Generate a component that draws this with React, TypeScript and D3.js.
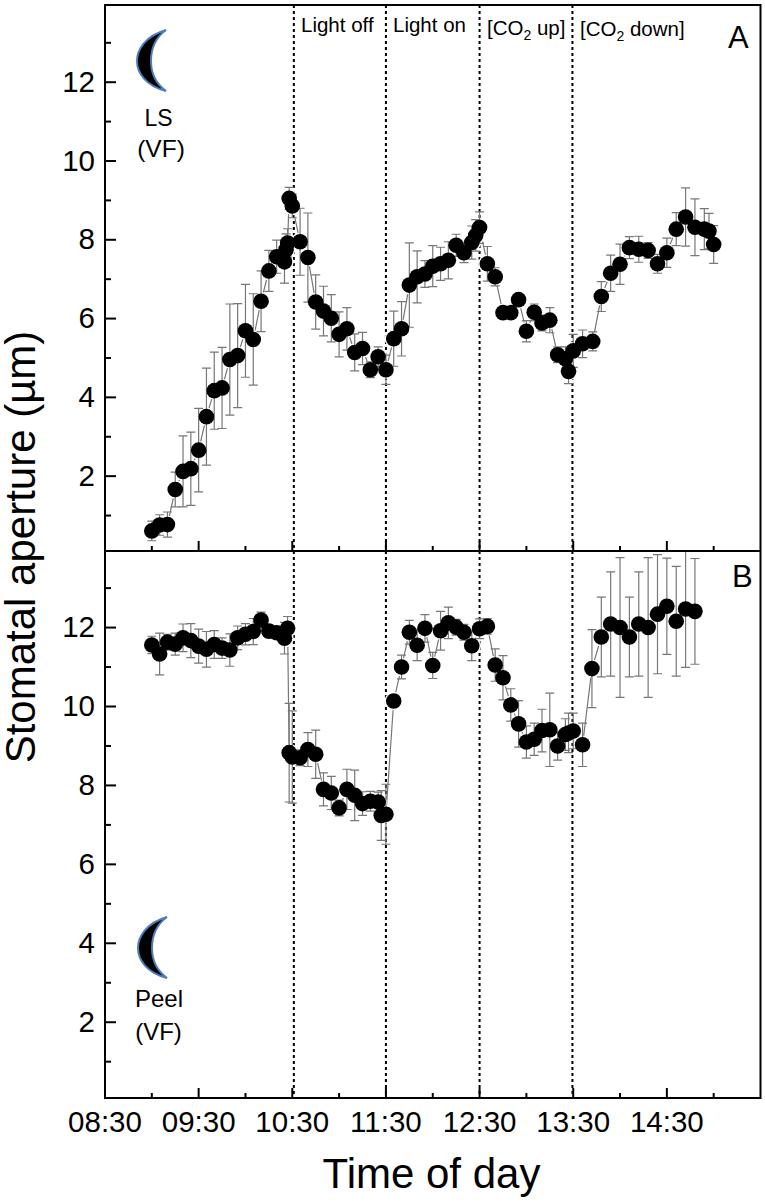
import * as d3 from 'd3';
import * as React from 'react';

// all times are minutes after 09:00
const timesA = [
  0, 5, 10, 15, 20, 25, 30, 35, 40, 45, 50, 55, 60, 65, 70, 75, 80, 85, 86, 87, 88, 90, 95, 100, 105, 110, 115, 120, 125, 130,
  135, 140, 145, 150, 155, 160, 165, 170, 175, 180, 185, 190, 195, 200, 205, 207.5, 210, 215, 220, 225, 230, 235, 240, 245, 250, 255,
  260, 265, 267, 270, 276, 282.5, 288, 294, 300, 306, 312, 318, 324, 330, 336, 342, 348, 354, 357, 360,
];
const meansA = [
  0.61, 0.76, 0.77, 1.66, 2.12, 2.19, 2.66, 3.51, 4.17, 4.24, 4.96, 5.06, 5.69, 5.47, 6.44, 7.21, 7.57, 7.44, 7.75, 7.92, 9.05, 8.86,
  7.95, 7.55, 6.42, 6.19, 6.01, 5.6, 5.74, 5.14, 5.24, 4.7, 5.03, 4.7, 5.49, 5.74, 6.85, 7.06, 7.13, 7.33, 7.39, 7.48, 7.86, 7.67,
  7.93, 8.11, 8.31, 7.39, 7.06, 6.15, 6.15, 6.48, 5.68, 6.16, 5.89, 5.96, 5.08, 4.98, 4.66, 5.18, 5.36, 5.42, 6.56, 7.15, 7.38, 7.8,
  7.76, 7.73, 7.39, 7.67, 8.27, 8.58, 8.32, 8.27, 8.22, 7.88,
];
const errorsA = [
  0.25, 0.26, 0.32, 0.44, 0.9, 0.93, 1.06, 1.23, 0.98, 1.03, 1.41, 1.32, 1.18, 1.16, 0.77, 0.52, 0.42, 0.54, 0.4, 0.36, 0.28, 0.3,
  0.85, 1.13, 0.69, 0.63, 0.6, 0.57, 0.54, 0.47, 0.41, 0.2, 0.25, 0.37, 0.7, 0.69, 1.07, 0.66, 0.34, 0.52, 0.42, 0.47, 0.28, 0.25,
  0.42, 0.4, 0.4, 0.44, 0.23, 0.1, 0.1, 0.1, 0.27, 0.21, 0.2, 0.32, 0.2, 0.3, 0.31, 0.42, 0.35, 0.24, 0.38, 0.46, 0.51, 0.28, 0.33,
  0.2, 0.24, 0.37, 0.42, 0.74, 0.72, 0.52, 0.45, 0.48,
];

const timesB = [
  0, 5, 10, 15, 20, 25, 30, 35, 40, 45, 50, 55, 60, 65, 70, 75, 80, 85, 87, 88, 90, 95, 100, 105, 110, 115, 120, 125, 130, 135, 140,
  145, 147, 150, 155, 160, 165, 170, 175, 180, 185, 190, 195, 200, 205, 210, 215, 220, 225, 230, 235, 240, 245, 250, 255, 260, 265,
  267, 270, 276, 282, 288, 294, 300, 306, 312, 318, 324, 330, 336, 342, 348,
];
const meansB = [
  11.56, 11.33, 11.63, 11.58, 11.74, 11.67, 11.53, 11.45, 11.57, 11.48, 11.43, 11.74, 11.83, 11.9, 12.19, 11.91, 11.87, 11.73, 11.98,
  8.83, 8.72, 8.7, 8.91, 8.79, 7.9, 7.81, 7.43, 7.9, 7.75, 7.54, 7.6, 7.58, 7.24, 7.27, 10.14, 11.0, 11.88, 11.55, 11.98, 11.04,
  11.92, 12.12, 12.01, 11.88, 11.54, 11.97, 12.03, 11.05, 10.73, 10.04, 9.56, 9.1, 9.17, 9.39, 9.41, 9.0, 9.29, 9.33, 9.38, 9.03,
  10.96, 11.76, 12.09, 12.0, 11.76, 12.09, 12.0, 12.34, 12.54, 12.16, 12.47, 12.41,
];
const errorsB = [
  0.22, 0.53, 0.2, 0.28, 0.35, 0.43, 0.43, 0.45, 0.35, 0.26, 0.41, 0.3, 0.27, 0.33, 0.2, 0.15, 0.15, 0.4, 0.3, 1.25, 1.17, 0.2, 0.43,
  0.61, 0.42, 0.42, 0.2, 0.51, 0.64, 0.3, 0.25, 0.25, 0.63, 0.76, 0.15, 0.3, 0.3, 0.39, 0.35, 0.33, 0.49, 0.4, 0.2, 0.2, 0.38, 0.25,
  0.2, 0.41, 0.56, 0.41, 0.59, 0.41, 0.41, 0.54, 0.93, 0.36, 0.4, 0.5, 0.45, 0.55, 0.99, 1.01, 1.32, 1.77, 1.01, 1.32, 1.77, 1.51,
  1.22, 1.39, 1.48, 1.34,
];

const xTickLabels = ['08:30', '09:30', '10:30', '11:30', '12:30', '13:30', '14:30'];
const xTickTimes = [-30, 30, 90, 150, 210, 270, 330];
const xMinorTimes = [0, 60, 120, 180, 240, 300, 360];
const yMajor = [2, 4, 6, 8, 10, 12];
const yMinor = [1, 3, 5, 7, 9, 11, 13];
const switchTimes = [91, 150, 210, 269.5];

const FONT = '"Liberation Sans", Arial, sans-serif';
const left = 105;
const right = 760.5;
const top = 5;
const mid = 551;
const bottom = 1098;
const grey = '#777777';

const x = d3.scaleLinear().domain([-30, 390]).range([left, right]);
const yA = d3.scaleLinear().domain([0.1, 13.96]).range([mid, top]);
const yB = d3.scaleLinear().domain([0.08, 13.94]).range([bottom, mid]);

const crescent = 'M29,0 C8,6 0,20 0,31 C0,43 9,56 29,61 C18,53 14,42 14,31 C14,20 18,8 29,0 Z';

const Panel = ({ times, means, errors, y, id }) => {
  const line = d3
    .line<number>()
    .x((d, i) => x(times[i]))
    .y((d) => y(d));
  return (
    <g clipPath={`url(#${id})`}>
      <path d={line(means) || ''} fill="none" stroke={grey} strokeWidth={1.2} />
      {means.map((d, i) => (
        <circle key={i} cx={x(times[i])} cy={y(d)} r={9.2} fill="#fff" />
      ))}
      {means.map((d, i) => (
        <path
          key={i}
          d={`M${x(times[i]) - 4.5},${y(d + errors[i])}H${x(times[i]) + 4.5}M${x(times[i])},${y(d + errors[i])}V${y(d - errors[i])}M${x(times[i]) - 4.5},${y(d - errors[i])}H${x(times[i]) + 4.5}`}
          fill="none"
          stroke={grey}
          strokeWidth={1.2}
        />
      ))}
      {means.map((d, i) => (
        <circle key={i} cx={x(times[i])} cy={y(d)} r={7.8} fill="#000" />
      ))}
    </g>
  );
};

const YAxis = ({ y }) => (
  <g>
    {yMajor.map((d) => (
      <g key={d}>
        <line x1={left} x2={left + 11} y1={y(d)} y2={y(d)} stroke="#000" strokeWidth={2} />
        <text x={left - 10} y={y(d) + 9.5} textAnchor="end" fontSize={29.5}>
          {d}
        </text>
      </g>
    ))}
    {yMinor.map((d) => (
      <line key={d} x1={left} x2={left + 6} y1={y(d)} y2={y(d)} stroke="#000" strokeWidth={2} />
    ))}
  </g>
);

const XTicks = ({ base }) => (
  <g>
    {xTickTimes.map((d) => (
      <line key={d} x1={x(d)} x2={x(d)} y1={base} y2={base - 10} stroke="#000" strokeWidth={2} />
    ))}
    {xMinorTimes.map((d) => (
      <line key={d} x1={x(d)} x2={x(d)} y1={base} y2={base - 5} stroke="#000" strokeWidth={2} />
    ))}
  </g>
);

const Moon = ({ tx, ty }) => (
  <path d={crescent} transform={`translate(${tx},${ty})`} fill="#000" stroke="#4a7ebb" strokeWidth={2} strokeLinejoin="miter" />
);

export default function App() {
  return (
    <svg width={765} height={1202} style={{ position: 'absolute', left: 0, top: 0, display: 'block', background: '#fff' }} fontFamily={FONT}>
      <defs>
        <clipPath id="clipA">
          <rect x={left} y={top} width={right - left} height={mid - top} />
        </clipPath>
        <clipPath id="clipB">
          <rect x={left} y={mid} width={right - left} height={bottom - mid} />
        </clipPath>
      </defs>

      {switchTimes.map((d) => (
        <line key={d} x1={x(d)} x2={x(d)} y1={top} y2={bottom} stroke="#000" strokeWidth={2} strokeDasharray="3 3" />
      ))}

      <Panel times={timesA} means={meansA} errors={errorsA} y={yA} id="clipA" />
      <Panel times={timesB} means={meansB} errors={errorsB} y={yB} id="clipB" />

      <rect x={left} y={top} width={right - left} height={bottom - top} fill="none" stroke="#000" strokeWidth={2} />
      <line x1={left} x2={right} y1={mid} y2={mid} stroke="#000" strokeWidth={2} />

      <YAxis y={yA} />
      <YAxis y={yB} />
      <XTicks base={mid} />
      <XTicks base={bottom} />

      {xTickTimes.map((d, i) => (
        <text key={d} x={x(d)} y={1132} textAnchor="middle" fontSize={29.5}>
          {xTickLabels[i]}
        </text>
      ))}

      <text x={431.5} y={1188} textAnchor="middle" fontSize={42}>
        Time of day
      </text>
      <text transform="translate(35,547) rotate(-90)" textAnchor="middle" fontSize={42}>
        Stomatal aperture (µm)
      </text>

      <text x={301} y={31.5} fontSize={20.5}>Light off</text>
      <text x={393} y={31.5} fontSize={20.5}>Light on</text>
      <text x={487} y={35} fontSize={20.5}>
        [CO<tspan dy={5} fontSize={14}>2</tspan><tspan dy={-5}> up]</tspan>
      </text>
      <text x={580} y={36} fontSize={20.5}>
        [CO<tspan dy={5} fontSize={14}>2</tspan><tspan dy={-5}> down]</tspan>
      </text>

      <text x={728} y={48} fontSize={31}>A</text>
      <text x={732} y={587} fontSize={31}>B</text>

      <Moon tx={137} ty={30} />
      <text x={158.5} y={126} textAnchor="middle" fontSize={23}>LS</text>
      <text x={161} y={157} textAnchor="middle" fontSize={24.5}>(VF)</text>

      <Moon tx={138} ty={917} />
      <text x={159} y={1007} textAnchor="middle" fontSize={24}>Peel</text>
      <text x={158.5} y={1040} textAnchor="middle" fontSize={24}>(VF)</text>
    </svg>
  );
}
